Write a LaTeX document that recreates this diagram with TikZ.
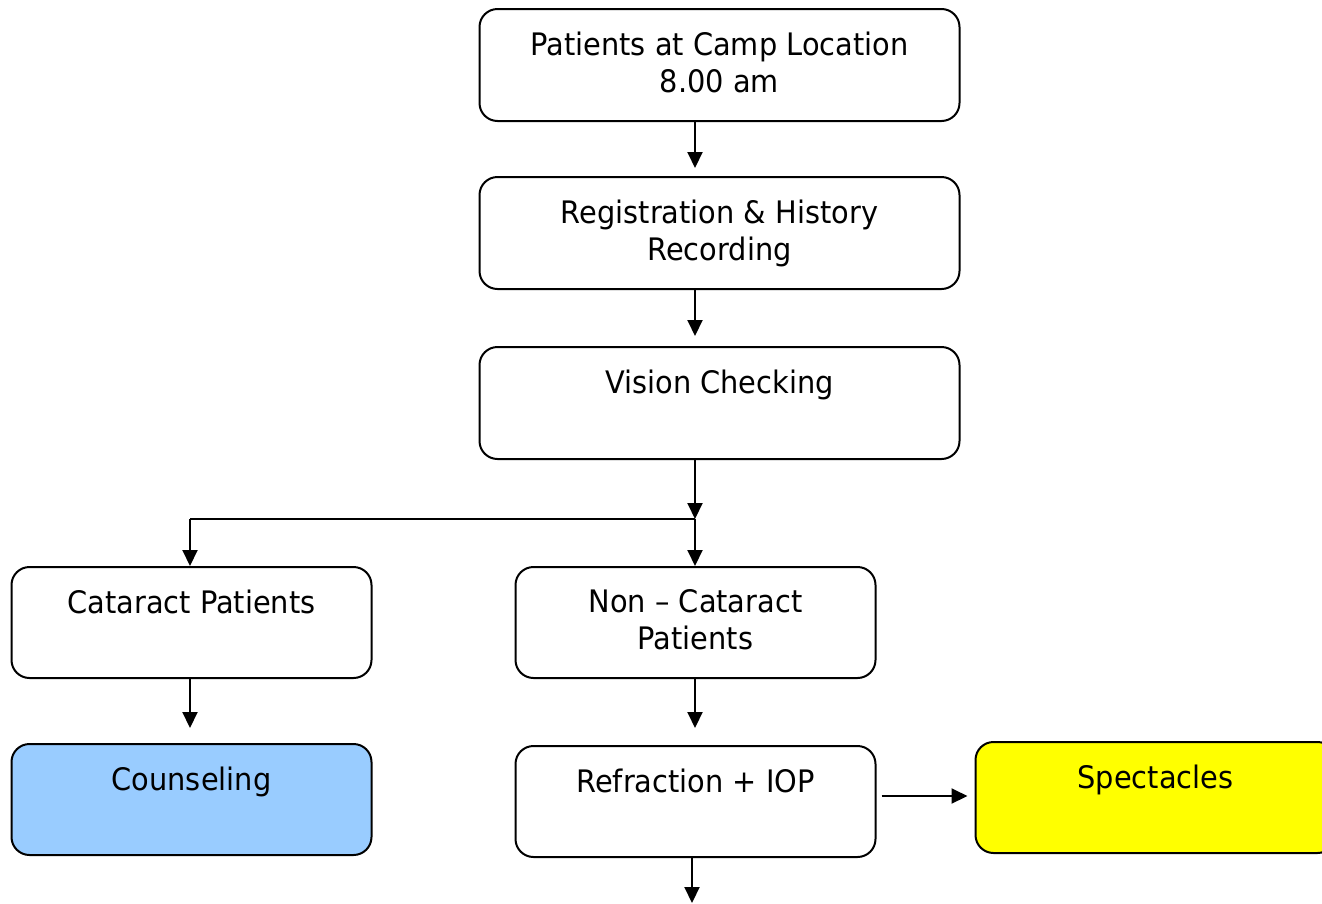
\documentclass[tikz,border=0pt]{standalone}
\usepackage{fontspec}
\setmainfont{DejaVu Sans}[FakeStretch=0.93]
\usetikzlibrary{arrows.meta}
\definecolor{cblue}{HTML}{99CCFF}
\definecolor{cyellow}{HTML}{FFFF00}
\begin{document}
\begin{tikzpicture}[x=1pt,y=-1pt,
  box/.style={draw, line width=2pt, rounded corners=18pt, anchor=north west, inner sep=0pt},
  bigbox/.style={box, minimum width=480pt, minimum height=112pt},
  smallbox/.style={box, minimum width=360pt, minimum height=111pt},
  txt/.style={anchor=north, inner sep=0pt, align=center, font=\fontsize{31}{37}\selectfont},
  arr/.style={line width=2pt, -{Triangle[width=15pt,length=16pt]}},
  ln/.style={line width=2pt}]
\useasboundingbox (0,0) rectangle (1322,903);
\clip (0,0) rectangle (1322,903);
% boxes
\node[bigbox] (b1) at (478.5,8) {};
\node[bigbox] (b2) at (478.5,176) {};
\node[bigbox] (b3) at (478.5,346) {};
\node[smallbox] (cat) at (10.5,566) {};
\node[smallbox] (non) at (514.5,566) {};
\node[smallbox, fill=cblue] (cou) at (10.5,743) {};
\node[smallbox] (ref) at (514.5,745) {};
\node[smallbox, fill=cyellow] (spe) at (974.5,741) {};
% texts
\node[txt] (t1) at ([yshift=-23.5pt]b1.north) {Patients at Camp Location\\8.00 am};
\node[txt] (t2) at ([yshift=-23.5pt]b2.north) {Registration \& History\\Recording};
\node[txt] (t3) at ([yshift=-23.5pt]b3.north) {Vision Checking};
\node[txt] (t4) at ([yshift=-23.5pt]cat.north) {Cataract Patients};
\node[txt] (t5) at ([yshift=-23.5pt]non.north) {Non – Cataract\\Patients};
\node[txt] (t6) at ([yshift=-23.5pt]cou.north) {Counseling};
\node[txt] (t7) at ([yshift=-23.5pt]ref.north) {Refraction + IOP};
\node[txt] (t8) at ([yshift=-23.5pt]spe.north) {Spectacles};
% connectors
\coordinate (split) at (695,519);
\coordinate (left) at (190,519);
\coordinate (endpt) at (692,903);
\coordinate (arrowy) at (0,796);
\draw[arr, shorten >=8pt] (split |- b1.south) -- (split |- b2.north);
\draw[arr, shorten >=10pt] (split |- b2.south) -- (split |- b3.north);
\draw[arr] (split |- b3.south) -- (split);
\draw[ln] (left) -- (split);
\draw[arr] (split) -- (split |- non.north);
\draw[arr] (left) -- (left |- cat.north);
\draw[arr, shorten >=15pt] (left |- cat.south) -- (left |- cou.north);
\draw[arr, shorten >=17pt] (split |- non.south) -- (split |- ref.north);
\draw[arr, shorten <=5pt, shorten >=7pt] (ref.east |- arrowy) -- (spe.west |- arrowy);
\draw[arr] (endpt |- ref.south) -- (endpt);
\end{tikzpicture}
\end{document}
